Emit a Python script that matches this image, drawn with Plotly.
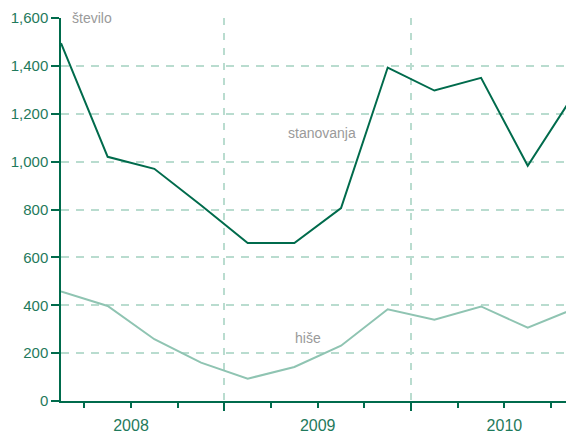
import plotly.graph_objects as go

# Quarterly data, 2008 Q1 .. 2010 Q4
quarters = list(range(12))
stanovanja = [1495, 1020, 970, 818, 660, 660, 806, 1393, 1297, 1350, 983, 1284]
hise = [458, 397, 258, 160, 93, 142, 231, 383, 340, 395, 306, 386]
years = ["2008", "2009", "2010"]
year_centers = [1.5, 5.5, 9.5]
year_bounds = [3.5, 7.5]
y_ticks = [0, 200, 400, 600, 800, 1000, 1200, 1400, 1600]
y_grid = [200, 400, 600, 800, 1000, 1200, 1400]

DARK = "#006b4c"
LIGHT = "#8fc4b2"
GRID = "#b9dccf"
LABEL = "#1f7a5c"
GRAY = "#9a9a9a"
FONT = "Liberation Sans, Arial, sans-serif"

xr = [0, 10.82]

fig = go.Figure()
fig.add_trace(go.Scatter(x=quarters, y=hise, mode="lines",
                         line=dict(color=LIGHT, width=2), showlegend=False, hoverinfo="skip"))
fig.add_trace(go.Scatter(x=quarters, y=stanovanja, mode="lines",
                         line=dict(color=DARK, width=2), showlegend=False, hoverinfo="skip"))
# helper invisible trace for overlay axes
fig.add_trace(go.Scatter(x=[None], y=[None], xaxis="x2", yaxis="y2", showlegend=False,
                         hoverinfo="skip"))

fig.update_layout(
    width=566, height=434,
    margin=dict(l=61, r=0, t=18, b=27),
    paper_bgcolor="white", plot_bgcolor="rgba(0,0,0,0)",
    font=dict(family=FONT, color=LABEL, size=15),
    xaxis=dict(range=xr, showline=True, linecolor=DARK, linewidth=1.5,
               showgrid=False, zeroline=False,
               tickmode="array", tickvals=year_centers, ticktext=years,
               ticks="outside", ticklen=9, tickcolor="rgba(0,0,0,0)",
               tickfont=dict(size=16, color=LABEL),
               minor=dict(ticks="outside", tick0=0.5, dtick=1, ticklen=5,
                          tickcolor=DARK, tickwidth=1.5, showgrid=False),
               layer="above traces"),
    xaxis2=dict(range=xr, overlaying="x", anchor="y", side="bottom",
                showline=False, zeroline=False, showticklabels=False,
                tickmode="array", tickvals=year_bounds,
                ticks="outside", ticklen=9, tickcolor=DARK, tickwidth=1.5,
                showgrid=True, gridcolor=GRID, griddash="7px,8px", gridwidth=1.5),
    yaxis=dict(range=[0, 1600], showline=True, linecolor=DARK, linewidth=1.5,
               showgrid=False, zeroline=False,
               tickmode="array", tickvals=y_ticks, tickformat=",",
               ticks="outside", ticklen=8, tickcolor=DARK, tickwidth=1.5,
               tickfont=dict(size=15, color=LABEL)),
    yaxis2=dict(range=[0, 1600], overlaying="y", anchor="x", side="left",
                showline=False, zeroline=False, showticklabels=False,
                tickmode="array", tickvals=y_grid, ticks="",
                showgrid=True, gridcolor=GRID, griddash="8px,7px", gridwidth=1.5),
)

fig.add_annotation(text="število", xref="paper", yref="paper", x=0.018, y=1.0,
                   xanchor="left", yanchor="middle", showarrow=False,
                   font=dict(family=FONT, size=14, color=GRAY))
fig.add_annotation(text="stanovanja", x=5.6, y=1120, xanchor="center", yanchor="middle",
                   showarrow=False, font=dict(family=FONT, size=14, color=GRAY))
fig.add_annotation(text="hiše", x=5.3, y=265, xanchor="center", yanchor="middle",
                   showarrow=False, font=dict(family=FONT, size=14, color=GRAY))

fig.write_html("out.html")
